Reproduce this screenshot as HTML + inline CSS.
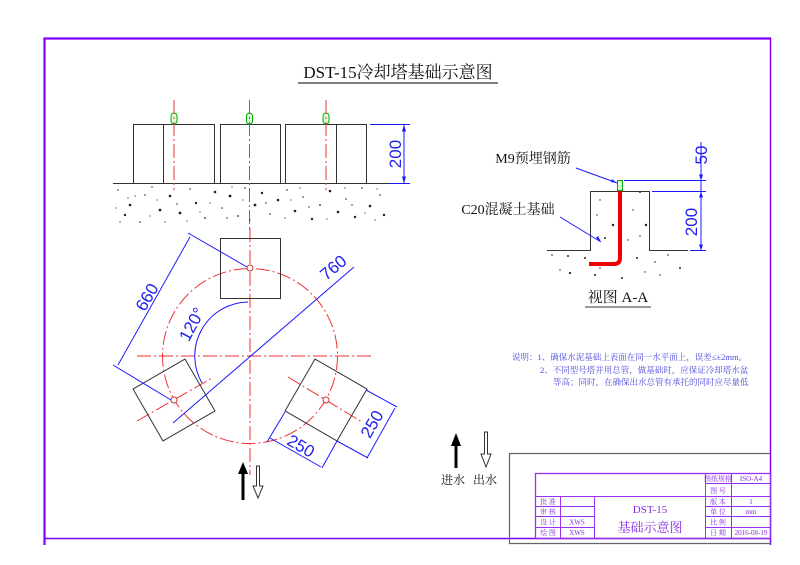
<!DOCTYPE html>
<html><head><meta charset="utf-8"><style>
html,body{margin:0;padding:0;background:#fff;}
svg{display:block;}
text{font-family:"Liberation Serif","Noto Serif CJK SC",serif;}
.bl{stroke:#1a1aff;stroke-width:1;fill:none;}
.bt{fill:#2020ee;font-family:"Liberation Sans",sans-serif;font-size:17px;}
.rd{stroke:#e33;stroke-width:1;fill:none;stroke-dasharray:14 3 2 3;}
.bk{stroke:#333;stroke-width:1;fill:none;}
.pu{stroke:#9a30f0;stroke-width:1;fill:none;}
.tb{font-size:7px;fill:#8a2be2;}
</style></head><body>
<svg width="800" height="565" viewBox="0 0 800 565" xmlns="http://www.w3.org/2000/svg">
<path d="M44.5 545 V38.5 H771" stroke="#8000ff" stroke-width="2.2" fill="none"/>
<line x1="770.5" y1="38" x2="770.5" y2="545" stroke="#8000ff" stroke-width="1.5"/>
<line x1="44" y1="538.5" x2="771" y2="538.5" stroke="#8000ff" stroke-width="1.5"/>
<text x="398" y="78" text-anchor="middle" font-size="17" fill="#111" font-family="Liberation Mono,Noto Serif CJK SC,serif">DST-15冷却塔基础示意图</text>
<line x1="298" y1="83" x2="498" y2="83" stroke="#333" stroke-width="1.2"/>

<g class="bk">
<rect x="133.5" y="124.5" width="81" height="59"/>
<line x1="163.5" y1="124.5" x2="163.5" y2="183.5"/>
<rect x="220.5" y="124.5" width="60" height="59"/>
<rect x="285.5" y="124.5" width="81" height="59"/>
<line x1="336.5" y1="124.5" x2="336.5" y2="183.5"/>
<line x1="113" y1="183.5" x2="390" y2="183.5"/>
</g>
<g stroke="#0a0" fill="#dfd" stroke-width="1">
<rect x="171" y="113" width="6" height="11" rx="3"/>
<rect x="246.5" y="113" width="6" height="11" rx="3"/>
<rect x="323" y="113" width="6" height="11" rx="3"/>
</g>
<line class="rd" x1="174" y1="100" x2="174" y2="190"/>
<line class="rd" x1="249.5" y1="100" x2="249.5" y2="230"/>
<line class="rd" x1="326" y1="100" x2="326" y2="190"/>
<g fill="#222">
<circle cx="118" cy="190" r=".7"/><circle cx="130" cy="205" r="1.3"/><circle cx="145" cy="195" r=".8"/><circle cx="160" cy="210" r="1.4"/><circle cx="125" cy="215" r="1.2"/><circle cx="140" cy="222" r=".8"/><circle cx="152" cy="187" r=".7"/><circle cx="170" cy="196" r="1.3"/><circle cx="180" cy="213" r="1.4"/><circle cx="190" cy="189" r=".8"/><circle cx="196" cy="203" r="1.2"/><circle cx="205" cy="218" r=".9"/><circle cx="215" cy="192" r="1.3"/><circle cx="222" cy="208" r=".8"/><circle cx="230" cy="196" r="1.4"/><circle cx="238" cy="216" r=".9"/><circle cx="245" cy="188" r=".8"/><circle cx="255" cy="205" r="1.4"/><circle cx="262" cy="193" r="1.2"/><circle cx="270" cy="214" r=".8"/><circle cx="278" cy="200" r="1.3"/><circle cx="287" cy="190" r=".8"/><circle cx="295" cy="211" r="1.3"/><circle cx="303" cy="197" r=".8"/><circle cx="312" cy="219" r="1.2"/><circle cx="320" cy="205" r=".9"/><circle cx="330" cy="191" r="1.3"/><circle cx="338" cy="212" r="1.3"/><circle cx="346" cy="199" r=".8"/><circle cx="355" cy="217" r="1.2"/><circle cx="362" cy="188" r=".8"/><circle cx="370" cy="206" r="1.3"/><circle cx="380" cy="195" r=".8"/><circle cx="384" cy="215" r="1.2"/><circle cx="135" cy="196" r=".6"/><circle cx="150" cy="216" r=".6"/><circle cx="187" cy="221" r=".6"/><circle cx="210" cy="203" r=".6"/><circle cx="250" cy="220" r=".6"/><circle cx="285" cy="218" r=".6"/><circle cx="300" cy="188" r=".6"/><circle cx="345" cy="188" r=".6"/><circle cx="375" cy="220" r=".6"/><circle cx="120" cy="222" r=".6"/><circle cx="165" cy="222" r=".6"/><circle cx="232" cy="187" r=".6"/>
<circle cx="128" cy="198" r=".6"/><circle cx="157" cy="200" r=".6"/><circle cx="177" cy="204" r=".7"/><circle cx="200" cy="212" r=".6"/><circle cx="227" cy="218" r=".7"/><circle cx="243" cy="200" r=".6"/><circle cx="266" cy="203" r=".7"/><circle cx="291" cy="200" r=".6"/><circle cx="309" cy="207" r=".7"/><circle cx="327" cy="219" r=".6"/><circle cx="352" cy="205" r=".7"/><circle cx="365" cy="213" r=".6"/><circle cx="377" cy="189" r=".6"/><circle cx="116" cy="208" r=".6"/>
</g>
<g class="bl">
<line x1="370" y1="124.5" x2="410" y2="124.5"/>
<line x1="390" y1="183.5" x2="410" y2="183.5"/>
<line x1="404" y1="124.5" x2="404" y2="183.5"/>
</g>
<path d="M404 124.5 l-2 7 h4z M404 183.5 l-2 -7 h4z" fill="#1a1aff"/>
<text class="bt" transform="translate(401,154) rotate(-90)" text-anchor="middle">200</text>

<circle cx="250" cy="356" r="87.5" class="rd"/>
<line class="rd" x1="137" y1="356" x2="372" y2="356"/>
<line class="rd" x1="250" y1="228" x2="250" y2="475"/>
<line class="rd" x1="137" y1="421" x2="212" y2="378"/>
<line class="rd" x1="288" y1="377" x2="362" y2="422"/>
<g class="bk">
<rect x="220.5" y="238.5" width="60" height="60"/>
<rect x="-30" y="-30" width="60" height="60" transform="translate(174,400) rotate(-30)"/>
<rect x="-30" y="-30" width="60" height="60" transform="translate(326,400) rotate(30)"/>
</g>
<g stroke="#c33" fill="#fff" stroke-width="1">
<circle cx="250" cy="268" r="3"/><circle cx="174" cy="400" r="3"/><circle cx="326" cy="400" r="3"/>
</g>
<g class="bl">
<line x1="188" y1="233" x2="247" y2="267"/>
<line x1="113" y1="365" x2="171" y2="400"/>
<line x1="190" y1="237" x2="118" y2="365"/>
<line x1="173" y1="423" x2="354" y2="267"/>
<path d="M248 302 A54 54 0 0 0 202 383"/>
<line x1="285" y1="412" x2="267" y2="442"/>
<line x1="337" y1="441" x2="322" y2="468"/>
<line x1="270" y1="438" x2="321" y2="467"/>
<line x1="366" y1="390" x2="397" y2="407"/>
<line x1="337" y1="441" x2="368" y2="458"/>
<line x1="395" y1="408" x2="367" y2="458"/>
</g>
<text class="bt" transform="translate(152,300) rotate(-60)" text-anchor="middle">660</text>
<text class="bt" transform="translate(337,272) rotate(-40)" text-anchor="middle">760</text>
<text class="bt" transform="translate(197,327) rotate(-62)" text-anchor="middle">120°</text>
<text class="bt" transform="translate(298,451) rotate(30)" text-anchor="middle">250</text>
<text class="bt" transform="translate(377,427) rotate(-60)" text-anchor="middle">250</text>

<path d="M243 500 V472" stroke="#000" stroke-width="3"/>
<path d="M238 474 L243 462 L248 474z" fill="#000"/>
<path d="M256.5 466 h3 v20 h3.5 l-5 12 l-5 -12 h3.5z" fill="#fff" stroke="#333" stroke-width="1"/>

<g class="bk">
<path d="M547 250.5 H590.5 V191.5 H649.5 V250.5 H688"/>
</g>
<g fill="#222">
<circle cx="600" cy="200" r=".7"/><circle cx="640" cy="192" r="1"/><circle cx="597" cy="215" r=".7"/><circle cx="613" cy="225" r="1.2"/><circle cx="633" cy="210" r=".7"/><circle cx="646" cy="225" r="1.2"/><circle cx="605" cy="238" r="1"/><circle cx="628" cy="240" r=".7"/><circle cx="640" cy="236" r=".7"/><circle cx="552" cy="255" r=".8"/><circle cx="568" cy="256" r="1"/><circle cx="585" cy="258" r="1"/><circle cx="560" cy="270" r=".7"/><circle cx="570" cy="273" r="1.1"/><circle cx="595" cy="275" r="1"/><circle cx="620" cy="262" r=".8"/><circle cx="637" cy="258" r="1"/><circle cx="655" cy="262" r=".8"/><circle cx="668" cy="255" r=".8"/><circle cx="680" cy="268" r="1"/><circle cx="622" cy="278" r="1"/><circle cx="645" cy="272" r=".7"/><circle cx="600" cy="268" r=".7"/><circle cx="660" cy="275" r=".7"/>
</g>
<path d="M620 190 V258 Q620 264 614 264 H589" stroke="#e00" stroke-width="4" fill="none"/>
<rect x="617.5" y="180.5" width="5" height="10" fill="#dfd" stroke="#0a0"/>
<g class="bl">
<line x1="624" y1="180.5" x2="706" y2="180.5"/>
<line x1="652" y1="191.5" x2="706" y2="191.5"/>
<line x1="690" y1="250.5" x2="706" y2="250.5"/>
<line x1="701" y1="142" x2="701" y2="250.5"/>
<line x1="576" y1="168" x2="617" y2="183"/>
<line x1="560" y1="217" x2="601" y2="242"/>
</g>
<path d="M701 180.5 l-2 -6 h4z M701 191.5 l-2 6 h4z M701 250.5 l-2 -6 h4z M617 183 l-6 -1 l1 -3z M601 242 l-5 -4 l2 -2z" fill="#1a1aff"/>
<text class="bt" transform="translate(707,155) rotate(-90)" text-anchor="middle">50</text>
<text class="bt" transform="translate(697,222) rotate(-90)" text-anchor="middle">200</text>
<text x="533" y="163" text-anchor="middle" font-size="14" fill="#111">M9预埋钢筋</text>
<text x="508" y="214" text-anchor="middle" font-size="14" fill="#111">C20混凝土基础</text>
<text x="618" y="302" text-anchor="middle" font-size="15" fill="#111">视图 A-A</text>
<line x1="585" y1="307" x2="651" y2="307" stroke="#333"/>

<g font-size="8.5" fill="#4a4ad8">
<text x="512" y="360">说明：1、确保水泥基础上表面在同一水平面上，误差≤±2mm。</text>
<text x="540" y="373">2、不同型号塔并用总管，做基础时，应保证冷却塔水盆</text>
<text x="553" y="385">等高；同时，在确保出水总管有承托的同时应尽量低</text>
</g>

<path d="M456 468 V444" stroke="#000" stroke-width="3"/>
<path d="M451 446 L456 433 L461 446z" fill="#000"/>
<path d="M484.5 432 h3 v22 h3.5 l-5 13 l-5 -13 h3.5z" fill="#fff" stroke="#333"/>
<text x="453" y="484" text-anchor="middle" font-size="12" fill="#111">进水</text>
<text x="485" y="484" text-anchor="middle" font-size="12" fill="#111">出水</text>

<path d="M509.5 543.5 V453.5 H770" stroke="#666" stroke-width="1.2" fill="none"/>
<line x1="509" y1="543.5" x2="771" y2="543.5" stroke="#666" stroke-width="1.2"/>
<g class="pu">
<rect x="535.5" y="473.5" width="235" height="65" stroke-width="1.3"/>
<line x1="535.5" y1="496.5" x2="705.5" y2="496.5"/>
<line x1="535.5" y1="506.5" x2="594.5" y2="506.5"/>
<line x1="535.5" y1="516.5" x2="594.5" y2="516.5"/>
<line x1="535.5" y1="527.5" x2="594.5" y2="527.5"/>
<line x1="705.5" y1="483.5" x2="770.5" y2="483.5"/>
<line x1="705.5" y1="496.5" x2="770.5" y2="496.5"/>
<line x1="705.5" y1="506.5" x2="770.5" y2="506.5"/>
<line x1="705.5" y1="516.5" x2="770.5" y2="516.5"/>
<line x1="705.5" y1="527.5" x2="770.5" y2="527.5"/>
<line x1="560.5" y1="496.5" x2="560.5" y2="538.5"/>
<line x1="594.5" y1="496.5" x2="594.5" y2="538.5"/>
<line x1="705.5" y1="473.5" x2="705.5" y2="538.5"/>
<line x1="731.5" y1="473.5" x2="731.5" y2="538.5"/>
</g>
<g class="tb">
<text x="548" y="504" text-anchor="middle">批 准</text>
<text x="548" y="514" text-anchor="middle">审 核</text>
<text x="548" y="524.5" text-anchor="middle">设 计</text>
<text x="548" y="535" text-anchor="middle">绘 图</text>
<text x="577" y="524.5" text-anchor="middle">XWS</text>
<text x="577" y="535" text-anchor="middle">XWS</text>
<text x="718" y="481" text-anchor="middle">图纸规格</text>
<text x="718" y="493" text-anchor="middle">图 号</text>
<text x="718" y="504" text-anchor="middle">版 本</text>
<text x="718" y="514" text-anchor="middle">单 位</text>
<text x="718" y="524.5" text-anchor="middle">比 例</text>
<text x="718" y="535" text-anchor="middle">日 期</text>
<text x="751" y="481" text-anchor="middle">ISO-A4</text>
<text x="751" y="504" text-anchor="middle">1</text>
<text x="751" y="514" text-anchor="middle">mm</text>
<text x="751" y="535" text-anchor="middle">2016-08-19</text>
</g>
<text x="650" y="513" text-anchor="middle" font-size="11" fill="#8a2be2">DST-15</text>
<text x="650" y="532" text-anchor="middle" font-size="13" fill="#8a2be2">基础示意图</text>
</svg>
</body></html>
